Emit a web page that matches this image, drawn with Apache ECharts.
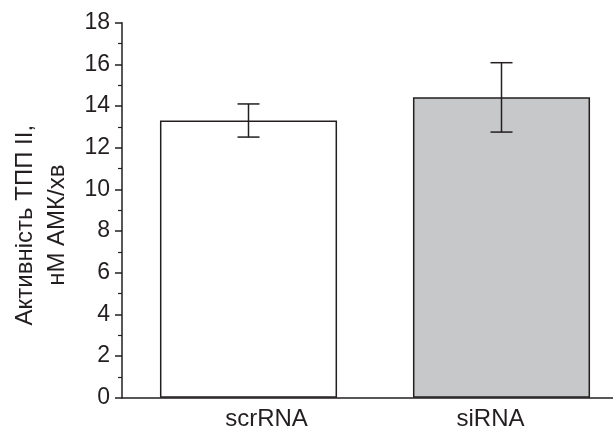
<!DOCTYPE html>
<html><head><meta charset="utf-8">
<script src="https://cdn.jsdelivr.net/npm/echarts@6/dist/echarts.min.js"></script>
<style>html,body{margin:0;padding:0;background:#fff}#c{width:613px;height:436px}</style>
</head><body><div id="c"></div>
<script>
const categories = ['scrRNA', 'siRNA'];
const meanValues = [13.3, 14.42];
const errLow = [12.51, 12.75];
const errHigh = [14.1, 16.08];
const barColors = ['#ffffff', '#c7c8ca'];
const yTicks = [0, 2, 4, 6, 8, 10, 12, 14, 16, 18];

const ink = '#231f20';
const font = 'Liberation Sans, Arial, sans-serif';
const chart = echarts.init(document.getElementById('c'), null, {renderer: 'canvas'});
chart.setOption({
  animation: false,
  grid: {left: 122, right: -15, top: 22.7, bottom: 38.3, containLabel: false, outerBoundsMode: 'none'},
  xAxis: {
    type: 'category',
    data: [
      {value: categories[0], textStyle: {padding: [0, 0, 0, 36]}},
      {value: categories[1], textStyle: {padding: [0, 22, 0, 0]}}
    ],
    axisLine: {lineStyle: {color: ink, width: 1.5}},
    axisTick: {show: false},
    axisLabel: {color: ink, fontSize: 24, fontFamily: font, margin: 10}
  },
  yAxis: {
    type: 'value', min: yTicks[0], max: yTicks[yTicks.length - 1], interval: 2,
    name: 'Активність ТПП ІІ,\nнМ АМК/хв',
    nameLocation: 'middle', nameRotate: 90, nameGap: 42,
    nameTextStyle: {color: ink, fontSize: 24, fontFamily: font, lineHeight: 32, padding: [0, 30, 0, 0]},
    axisLine: {show: true, lineStyle: {color: ink, width: 1.5}},
    axisTick: {show: true, length: 7, lineStyle: {color: ink, width: 1.5}},
    minorTick: {show: true, splitNumber: 2, length: 4, lineStyle: {color: ink, width: 1.2}},
    splitLine: {show: false},
    axisLabel: {color: ink, fontSize: 23, fontFamily: font, margin: 12}
  },
  series: [
    {
      type: 'bar', barWidth: '70%',
      data: meanValues.map((v, i) => ({value: v, itemStyle: {color: barColors[i]}})),
      itemStyle: {borderColor: ink, borderWidth: 1.5}
    },
    {
      type: 'custom', z: 5,
      data: categories.map((c, i) => [i, errLow[i], errHigh[i]]),
      renderItem: function (params, api) {
        const x = api.value(0);
        const lo = api.coord([x, api.value(1)]);
        const hi = api.coord([x, api.value(2)]);
        const hw = 11;
        const st = {stroke: ink, lineWidth: 1.5};
        return {type: 'group', children: [
          {type: 'line', shape: {x1: lo[0], y1: lo[1], x2: hi[0], y2: hi[1]}, style: st},
          {type: 'line', shape: {x1: lo[0] - hw, y1: lo[1], x2: lo[0] + hw, y2: lo[1]}, style: st},
          {type: 'line', shape: {x1: hi[0] - hw, y1: hi[1], x2: hi[0] + hw, y2: hi[1]}, style: st}
        ]};
      }
    }
  ]
});
</script></body></html>
